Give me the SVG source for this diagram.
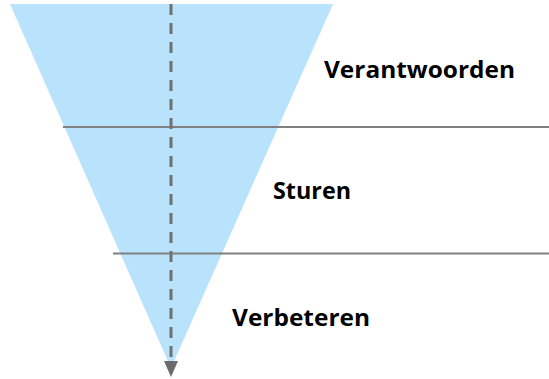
<svg xmlns="http://www.w3.org/2000/svg" width="549" height="379" viewBox="0 0 549 379">
  <style>
    .lbl { font-family: "Open Sans", "Liberation Sans", sans-serif; font-weight: bold; font-size: 23px; fill: #000; }
    .sep { stroke: #808080; stroke-width: 2; fill: none; }
    .axis { stroke: #707070; stroke-width: 3; stroke-dasharray: 11 8; fill: none; }
  </style>
  <defs>
    <marker id="arrow" viewBox="0 0 15 16" refX="7.5" refY="0" markerWidth="15" markerHeight="16" markerUnits="userSpaceOnUse" orient="auto-start-reverse">
      <path d="M0,0 L15,0 L7.5,16 Z" fill="#6b6b6b"/>
    </marker>
  </defs>
  <rect width="549" height="379" fill="#ffffff"/>
  <g id="funnel">
    <polygon points="10,4 333,4 171,368" fill="#b9e3fc"/>
  </g>
  <g id="connectors">
    <line class="sep" x1="63" y1="127" x2="549" y2="127"/>
    <line class="sep" x1="113" y1="253.5" x2="549" y2="253.5"/>
    <path class="axis" d="M171,4 L171,361"/>
    <path d="M164,361 L178,361 L171,377 Z" fill="#6b6b6b"/>
  </g>
  <g id="verantwoorden">
    <text class="lbl" x="324" y="78" textLength="191" lengthAdjust="spacingAndGlyphs">Verantwoorden</text>
  </g>
  <g id="sturen">
    <text class="lbl" x="273" y="199" textLength="78" lengthAdjust="spacingAndGlyphs">Sturen</text>
  </g>
  <g id="verbeteren">
    <text class="lbl" x="232" y="326" textLength="138" lengthAdjust="spacingAndGlyphs">Verbeteren</text>
  </g>
</svg>
